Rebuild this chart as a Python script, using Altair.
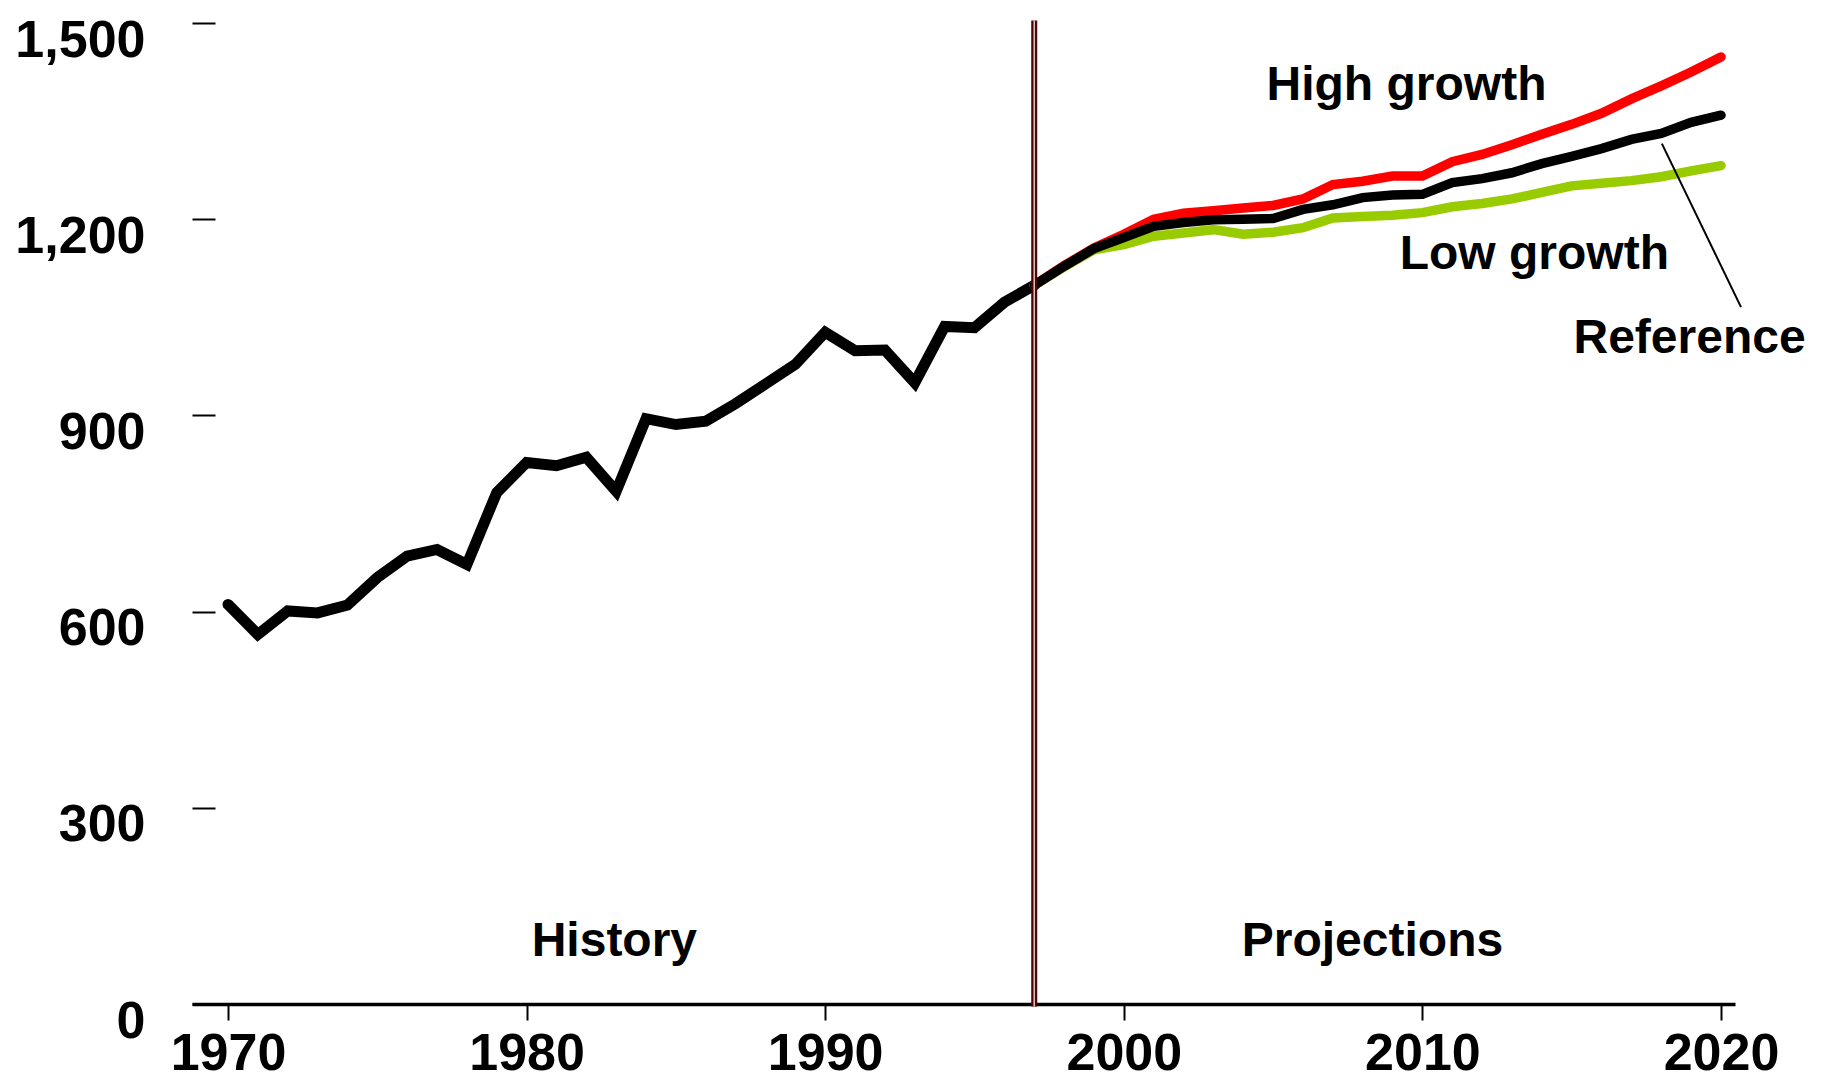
import altair as alt
import pandas as pd

FONT = "Liberation Sans"

# ---- data ----
hist_years = list(range(1970, 1998))
hist_vals = [611, 565, 601, 598, 610, 652, 685, 695, 672, 782, 828, 823, 836, 784,
             895, 886, 891, 918, 948, 978, 1027, 999, 1000, 950, 1036, 1034, 1073, 1099]

proj_years = list(range(1997, 2021))
ref_vals = [1099, 1128, 1155, 1172, 1189, 1195, 1199, 1200, 1201, 1215, 1222, 1233,
            1237, 1238, 1256, 1262, 1271, 1285, 1296, 1308, 1322, 1331, 1348, 1359]
high_vals = [1099, 1129, 1156, 1177, 1200, 1209, 1213, 1217, 1221, 1231, 1253, 1258,
             1266, 1266, 1288, 1299, 1314, 1330, 1345, 1362, 1384, 1404, 1425, 1448]
low_vals = [1099, 1127, 1153, 1161, 1174, 1179, 1184, 1177, 1180, 1187, 1202, 1204,
            1206, 1210, 1219, 1224, 1231, 1241, 1251, 1255, 1259, 1265, 1274, 1282]

x_ticks = [1970, 1980, 1990, 2000, 2010, 2020]
y_ticks = [0, 300, 600, 900, 1200, 1500]
x_domain = [1968.794, 2020.469]
y_domain = [0, 1500]
divider_year = 1997

label_text = ["High growth", "Low growth", "Reference", "History", "Projections"]
label_x = [2004.78, 2009.24, 2015.06, 1980.17, 2003.95]
label_y = [1382.5, 1123.4, 995.6, 74.0, 74.0]

leader_x, leader_y = 2018.02, 1315.6
leader_x2, leader_y2 = 2020.67, 1065.6

# ---- tables ----
hist_df = pd.DataFrame({"year": hist_years, "value": hist_vals})
ref_df = pd.DataFrame({"year": proj_years, "value": ref_vals})
high_df = pd.DataFrame({"year": proj_years, "value": high_vals})
low_df = pd.DataFrame({"year": proj_years, "value": low_vals})
lab_df = pd.DataFrame({"year": label_x, "value": label_y, "text": label_text})
div_df = pd.DataFrame({"year": [divider_year], "value": [1504], "bottom": [-4]})
lead_df = pd.DataFrame({"year": [leader_x], "value": [leader_y],
                        "year2": [leader_x2], "value2": [leader_y2]})

xs = alt.Scale(domain=x_domain, nice=False, zero=False)
ys = alt.Scale(domain=y_domain, nice=False, zero=False)

x_axis = alt.Axis(values=x_ticks, labelExpr="format(datum.value, 'd')", title=None,
                  grid=False, domain=True, domainColor="black", domainWidth=3.5,
                  ticks=True, tickColor="black", tickWidth=2, tickSize=16, offset=0,
                  labelFont=FONT, labelFontSize=52, labelFontWeight="bold",
                  labelColor="black", labelPadding=8, labelFlush=False,
                  labelOverlap=False)
y_axis = alt.Axis(values=y_ticks, labelExpr="format(datum.value, ',')", title=None,
                  grid=False, domain=False, ticks=True, tickColor="black", tickWidth=2,
                  tickSize=23, offset=-23,
                  labelFont=FONT, labelFontSize=52, labelFontWeight="bold",
                  labelColor="black", labelPadding=47, labelOffset=17,
                  labelBaseline="middle", labelFlush=False, labelOverlap=False)

X = alt.X("year:Q", scale=xs, axis=x_axis)
Y = alt.Y("value:Q", scale=ys, axis=y_axis)

base = alt.Chart(hist_df).mark_line(color="black", strokeWidth=11,
                                    strokeCap="round").encode(x=X, y=Y)
low = alt.Chart(low_df).mark_line(color="#99CC00", strokeWidth=9.5, strokeCap="round").encode(x=X, y=Y)
high = alt.Chart(high_df).mark_line(color="#FF0000", strokeWidth=9.5, strokeCap="round").encode(x=X, y=Y)
ref = alt.Chart(ref_df).mark_line(color="black", strokeWidth=9.5, strokeCap="round").encode(x=X, y=Y)

div_outer = alt.Chart(div_df).mark_rule(color="#4c0404", strokeWidth=6).encode(
    x=X, y=Y, y2="bottom:Q")
div_inner = alt.Chart(div_df).mark_rule(color="#e0c4c4", strokeWidth=1.5).encode(
    x=X, y=Y, y2="bottom:Q")

leader = alt.Chart(lead_df).mark_rule(color="black", strokeWidth=2).encode(
    x=X, y=Y, x2="year2:Q", y2="value2:Q")

labels = alt.Chart(lab_df).mark_text(align="left", baseline="alphabetic", font=FONT,
                                     fontSize=48, fontWeight="bold", color="black").encode(
    x=X, y=Y, text="text:N")

chart = alt.layer(base, low, high, ref, div_outer, div_inner, leader, labels).properties(
    width=1543, height=981,
    autosize=alt.AutoSizeParams(type="none"),
    padding={"left": 184, "top": 15, "right": 80, "bottom": 76},
    background="white",
).configure_view(stroke=None)

chart.save("out.html", embed_options={"renderer": "svg", "actions": False})
